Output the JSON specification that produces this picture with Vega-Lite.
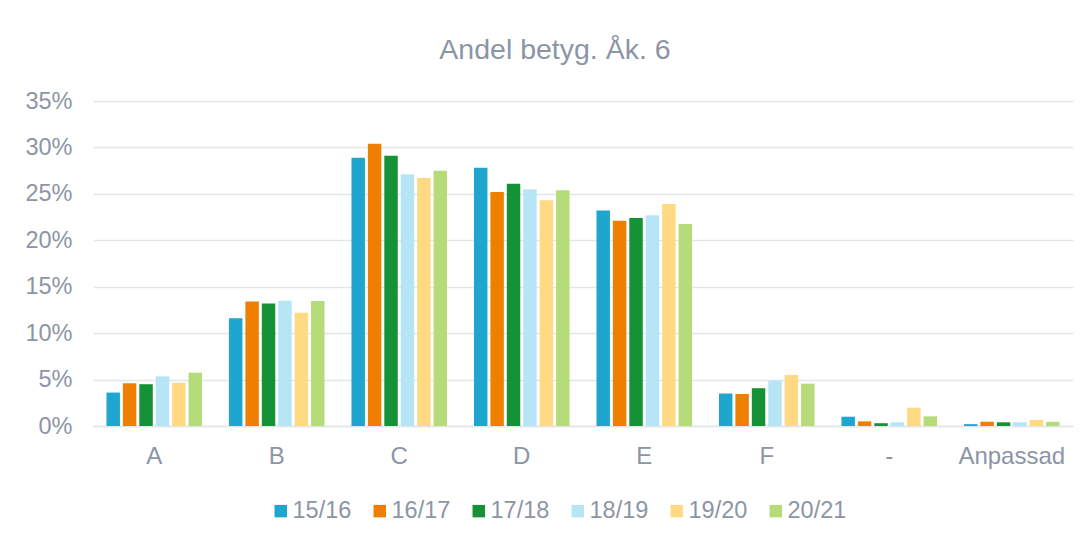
{
  "$schema": "https://vega.github.io/schema/vega-lite/v6.json",
  "width": 980,
  "height": 325,
  "autosize": {"type": "none"},
  "padding": {"left": 93, "top": 101, "right": 17, "bottom": 108},
  "background": "white",
  "title": {
    "text": "Andel betyg. Åk. 6",
    "font": "Liberation Sans",
    "fontSize": 28.5,
    "fontWeight": "normal",
    "color": "#8c95a5",
    "anchor": "middle",
    "dx": -28,
    "offset": 25
  },
  "data": {
    "values": [
      {"betyg": "A", "year": "15/16", "value": 0.036},
      {"betyg": "A", "year": "16/17", "value": 0.046},
      {"betyg": "A", "year": "17/18", "value": 0.045},
      {"betyg": "A", "year": "18/19", "value": 0.0535},
      {"betyg": "A", "year": "19/20", "value": 0.0466},
      {"betyg": "A", "year": "20/21", "value": 0.0574},
      {"betyg": "B", "year": "15/16", "value": 0.116},
      {"betyg": "B", "year": "16/17", "value": 0.134},
      {"betyg": "B", "year": "17/18", "value": 0.132},
      {"betyg": "B", "year": "18/19", "value": 0.135},
      {"betyg": "B", "year": "19/20", "value": 0.122},
      {"betyg": "B", "year": "20/21", "value": 0.1345},
      {"betyg": "C", "year": "15/16", "value": 0.289},
      {"betyg": "C", "year": "16/17", "value": 0.304},
      {"betyg": "C", "year": "17/18", "value": 0.291},
      {"betyg": "C", "year": "18/19", "value": 0.271},
      {"betyg": "C", "year": "19/20", "value": 0.267},
      {"betyg": "C", "year": "20/21", "value": 0.275},
      {"betyg": "D", "year": "15/16", "value": 0.278},
      {"betyg": "D", "year": "16/17", "value": 0.252},
      {"betyg": "D", "year": "17/18", "value": 0.261},
      {"betyg": "D", "year": "18/19", "value": 0.255},
      {"betyg": "D", "year": "19/20", "value": 0.243},
      {"betyg": "D", "year": "20/21", "value": 0.254},
      {"betyg": "E", "year": "15/16", "value": 0.232},
      {"betyg": "E", "year": "16/17", "value": 0.221},
      {"betyg": "E", "year": "17/18", "value": 0.224},
      {"betyg": "E", "year": "18/19", "value": 0.227},
      {"betyg": "E", "year": "19/20", "value": 0.239},
      {"betyg": "E", "year": "20/21", "value": 0.2175},
      {"betyg": "F", "year": "15/16", "value": 0.035},
      {"betyg": "F", "year": "16/17", "value": 0.0345},
      {"betyg": "F", "year": "17/18", "value": 0.0407},
      {"betyg": "F", "year": "18/19", "value": 0.049},
      {"betyg": "F", "year": "19/20", "value": 0.055},
      {"betyg": "F", "year": "20/21", "value": 0.0456},
      {"betyg": "-", "year": "15/16", "value": 0.01},
      {"betyg": "-", "year": "16/17", "value": 0.005},
      {"betyg": "-", "year": "17/18", "value": 0.003},
      {"betyg": "-", "year": "18/19", "value": 0.004},
      {"betyg": "-", "year": "19/20", "value": 0.0197},
      {"betyg": "-", "year": "20/21", "value": 0.0104},
      {"betyg": "Anpassad", "year": "15/16", "value": 0.002},
      {"betyg": "Anpassad", "year": "16/17", "value": 0.0046},
      {"betyg": "Anpassad", "year": "17/18", "value": 0.004},
      {"betyg": "Anpassad", "year": "18/19", "value": 0.004},
      {"betyg": "Anpassad", "year": "19/20", "value": 0.0065},
      {"betyg": "Anpassad", "year": "20/21", "value": 0.0045}
    ]
  },
  "mark": {"type": "bar"},
  "encoding": {
    "x": {
      "field": "betyg",
      "type": "nominal",
      "sort": ["A", "B", "C", "D", "E", "F", "-", "Anpassad"],
      "scale": {"paddingInner": 0.22, "paddingOuter": 0.11},
      "axis": {
        "title": null,
        "labelAngle": 0,
        "ticks": false,
        "domainColor": "#e2e5e9",
        "domainWidth": 1.5,
        "labelFont": "Liberation Sans",
        "labelFontSize": 24,
        "labelColor": "#8c95a5",
        "labelPadding": 18
      }
    },
    "xOffset": {
      "field": "year",
      "type": "nominal",
      "scale": {"paddingInner": 0.18, "paddingOuter": 0}
    },
    "y": {
      "field": "value",
      "type": "quantitative",
      "scale": {"domain": [0, 0.35], "nice": false},
      "axis": {
        "title": null,
        "format": ".0%",
        "values": [0, 0.05, 0.1, 0.15, 0.2, 0.25, 0.3, 0.35],
        "domain": false,
        "ticks": false,
        "gridColor": "#e2e5e9",
        "gridWidth": 1.5,
        "labelFont": "Liberation Sans",
        "labelFontSize": 23.5,
        "labelColor": "#8c95a5",
        "labelPadding": 21
      }
    },
    "color": {
      "field": "year",
      "type": "nominal",
      "scale": {
        "domain": ["15/16", "16/17", "17/18", "18/19", "19/20", "20/21"],
        "range": ["#1ea6cf", "#ee7f00", "#159235", "#b6e6f6", "#ffda82", "#b5dc78"]
      },
      "legend": {
        "title": null,
        "orient": "none",
        "legendX": 176,
        "legendY": 398,
        "direction": "horizontal",
        "symbolType": "square",
        "symbolSize": 155,
        "symbolStrokeWidth": 0,
        "labelFont": "Liberation Sans",
        "labelFontSize": 23.5,
        "labelColor": "#8c95a5",
        "labelOffset": 0,
        "columnPadding": 16
      }
    }
  },
  "config": {
    "view": {"stroke": null}
  }
}
